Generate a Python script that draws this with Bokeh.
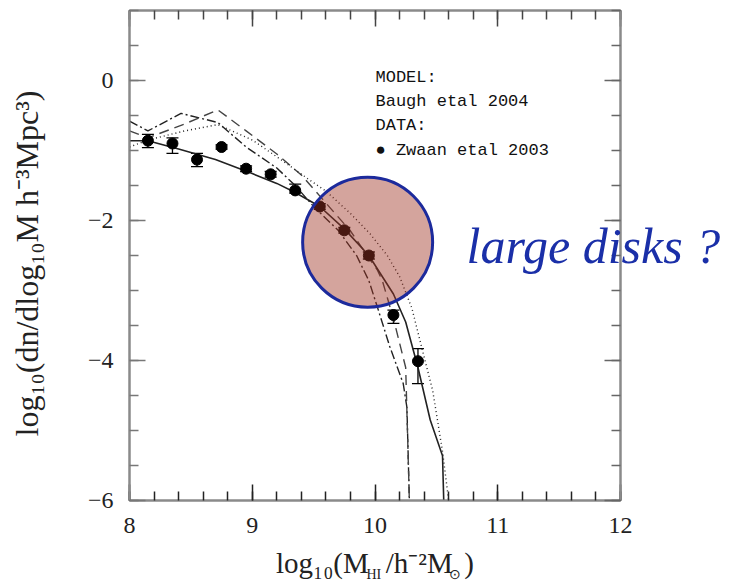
from bokeh.plotting import figure
from bokeh.models import FixedTicker, LinearAxis, Label, Whisker, ColumnDataSource, TeeHead
from bokeh.embed import file_html
from bokeh.resources import INLINE

# ---- data ----
obs_x = [8.15, 8.35, 8.55, 8.75, 8.95, 9.15, 9.35, 9.55, 9.75, 9.95, 10.15, 10.35]
obs_y = [-0.86, -0.90, -1.13, -0.95, -1.26, -1.34, -1.57, -1.80, -2.14, -2.50, -3.35, -4.01]
obs_lo = [-0.96, -1.04, -1.23, -0.98, -1.30, -1.38, -1.61, -1.84, -2.18, -2.55, -3.47, -4.33]
obs_hi = [-0.77, -0.82, -1.04, -0.92, -1.22, -1.30, -1.48, -1.76, -2.10, -2.45, -3.28, -3.83]

solid_x = [8.0, 8.15, 8.4, 8.7, 9.0, 9.2, 9.35, 9.55, 9.75, 9.95, 10.15, 10.25, 10.35, 10.45, 10.55, 10.56]
solid_y = [-0.86, -0.86, -0.98, -1.13, -1.33, -1.47, -1.60, -1.80, -2.12, -2.50, -3.05, -3.45, -4.10, -4.85, -5.36, -6.0]

dot_x = [8.0, 8.15, 8.45, 8.72, 9.0, 9.25, 9.45, 9.6, 9.8, 9.96, 10.1, 10.2, 10.3, 10.4, 10.47, 10.55, 10.6]
dot_y = [-0.95, -0.85, -0.72, -0.63, -0.85, -1.15, -1.40, -1.58, -1.90, -2.19, -2.50, -2.80, -3.25, -3.95, -4.43, -5.30, -6.0]

dash_x = [8.0, 8.15, 8.45, 8.72, 8.95, 9.2, 9.4, 9.56, 9.8, 10.02, 10.06, 10.15, 10.25, 10.28]
dash_y = [-0.72, -0.82, -0.62, -0.42, -0.72, -1.05, -1.35, -1.67, -2.15, -2.71, -2.86, -3.40, -4.10, -6.0]

dd_x = [8.0, 8.15, 8.42, 8.72, 8.95, 9.2, 9.35, 9.5, 9.7, 9.85, 9.95, 10.02, 10.12, 10.23, 10.26, 10.28]
dd_y = [-0.58, -0.72, -0.47, -0.60, -0.95, -1.25, -1.50, -1.80, -2.14, -2.50, -2.86, -3.24, -3.80, -4.33, -4.67, -6.0]

x_major = [8, 9, 10, 11, 12]
x_minor = [8 + 0.2 * i for i in range(21)]
y_major = [-6, -4, -2, 0]
y_minor = [-6 + 0.5 * i for i in range(15)]
y_labels = {-6: "\u22126", -4: "\u22124", -2: "\u22122", 0: "0"}

legend_lines = ["MODEL:", "Baugh etal 2004", "DATA:", "\u25cf Zwaan etal 2003"]

x_title_main = "log\u2081\u2080(M\u2002\u200a/h\u207b\u00b2M\u2009\u2009)"
x_title_sub = "HI"
x_title_sun = "\u2299"
y_title = "log\u2081\u2080(dn/dlog\u2081\u2080M h\u207b\u00b3Mpc\u00b3)\u2002"
note_text = "large disks ?"

# annotation anchors
hl_x = [9.94]
hl_y = [-2.31]
sub_pos = 9.99       # x position of the "HI" subscript
sun_pos = 10.648     # x position of the solar-mass subscript
note_pos = -2.37     # y position of the "large disks ?" note

SERIF = "Liberation Serif"

p = figure(width=732, height=585, x_range=(8, 12), y_range=(-6, 1),
           output_backend="svg", toolbar_location=None,
           min_border_left=129, min_border_right=112, min_border_top=10, min_border_bottom=85)
p.grid.visible = False
p.background_fill_color = "white"
p.border_fill_color = "white"
p.outline_line_color = "#8a8a8a"
p.outline_line_width = 2

bottom_ax = p.below[0]
left_ax = p.left[0]

xt = FixedTicker(ticks=x_major, minor_ticks=x_minor)
yt = FixedTicker(ticks=y_major, minor_ticks=y_minor)

def style_axis(ax, tick_color, show_labels):
    ax.axis_line_color = "#8a8a8a"
    ax.axis_line_width = 2
    ax.major_tick_in = 16
    ax.major_tick_out = 0
    ax.minor_tick_in = 9
    ax.minor_tick_out = 0
    ax.major_tick_line_color = tick_color
    ax.minor_tick_line_color = tick_color
    ax.major_tick_line_width = 1.5
    ax.minor_tick_line_width = 1.5
    if show_labels:
        ax.major_label_text_font = SERIF
        ax.major_label_text_font_size = "24px"
        ax.major_label_text_color = "#222222"
    else:
        ax.major_label_text_color = None
        ax.major_label_text_font_size = "1px"
        ax.major_label_standoff = 0

def text_only_axis(ax):
    ax.axis_line_color = None
    ax.major_tick_line_color = None
    ax.minor_tick_line_color = None
    ax.major_tick_out = 0
    ax.major_tick_in = 0
    ax.minor_tick_out = 0
    ax.minor_tick_in = 0

bottom_ax.ticker = xt
left_ax.ticker = yt
style_axis(bottom_ax, "#222222", True)
style_axis(left_ax, "#777777", True)
bottom_ax.major_label_standoff = 17
left_ax.major_label_standoff = 16
left_ax.major_label_overrides = y_labels

top_ax = LinearAxis(ticker=xt)
style_axis(top_ax, "#444444", False)
p.add_layout(top_ax, "above")
right_ax = LinearAxis(ticker=yt)
style_axis(right_ax, "#666666", False)
p.add_layout(right_ax, "right")

# y title
left_ax.axis_label = y_title
left_ax.axis_label_text_font = SERIF
left_ax.axis_label_text_font_style = "normal"
left_ax.axis_label_text_font_size = "32px"
left_ax.axis_label_text_color = "#222222"
left_ax.axis_label_standoff = 40

# x title (main part on the axis, subscripts on a text-only axis)
bottom_ax.axis_label = x_title_main
bottom_ax.axis_label_text_font = SERIF
bottom_ax.axis_label_text_font_style = "normal"
bottom_ax.axis_label_text_font_size = "29px"
bottom_ax.axis_label_text_color = "#222222"
bottom_ax.axis_label_standoff = 11

sub_axis = LinearAxis(ticker=FixedTicker(ticks=[sub_pos, sun_pos]),
                      major_label_overrides={sub_pos: x_title_sub, sun_pos: x_title_sun})
text_only_axis(sub_axis)
sub_axis.major_label_text_font = SERIF
sub_axis.major_label_text_font_size = "14px"
sub_axis.major_label_text_color = "#222222"
sub_axis.major_label_standoff = -15
p.add_layout(sub_axis, "below")

# note "large disks ?" (text-only axis on the right, pulled into the frame)
note_axis = LinearAxis(ticker=FixedTicker(ticks=[note_pos]), major_label_overrides={note_pos: note_text})
text_only_axis(note_axis)
note_axis.major_label_text_font = SERIF
note_axis.major_label_text_font_style = "italic"
note_axis.major_label_text_font_size = "50px"
note_axis.major_label_text_color = "#1a2fa8"
note_axis.major_label_standoff = -154
p.add_layout(note_axis, "right")

# model curves
lc = "#222222"
p.line(dd_x, dd_y, line_color=lc, line_width=1.4, line_dash="9 3 2 3")
p.line(dash_x, dash_y, line_color="#444444", line_width=1.4, line_dash="10 6")
p.line(dot_x, dot_y, line_color=lc, line_width=1.4, line_dash="1 3")
p.line(solid_x, solid_y, line_color=lc, line_width=1.6)

# data points with error bars
src = ColumnDataSource(dict(x=obs_x, y=obs_y, lo=obs_lo, hi=obs_hi))
w = Whisker(source=src, base="x", lower="lo", upper="hi", line_color="black", line_width=1.3,
            upper_head=TeeHead(size=12, line_color="black", line_width=1.3),
            lower_head=TeeHead(size=12, line_color="black", line_width=1.3))
p.add_layout(w)
p.scatter("x", "y", source=src, size=11, marker="circle", fill_color="black", line_color="black")

# highlight circle
p.scatter(hl_x, hl_y, size=130, marker="circle", fill_color="#a03526", fill_alpha=0.45,
          line_color="#1c2a9c", line_width=3, line_alpha=1.0)

# legend texts
row_y = [423, 399, 375, 350]
for txt, ry in zip(legend_lines, row_y):
    p.add_layout(Label(x=246, y=ry, x_units="screen", y_units="screen", text=txt,
                       text_font="Liberation Mono", text_font_size="17px",
                       text_color="#111111", text_baseline="middle"))

open("out.html", "w").write(file_html(p, INLINE))
